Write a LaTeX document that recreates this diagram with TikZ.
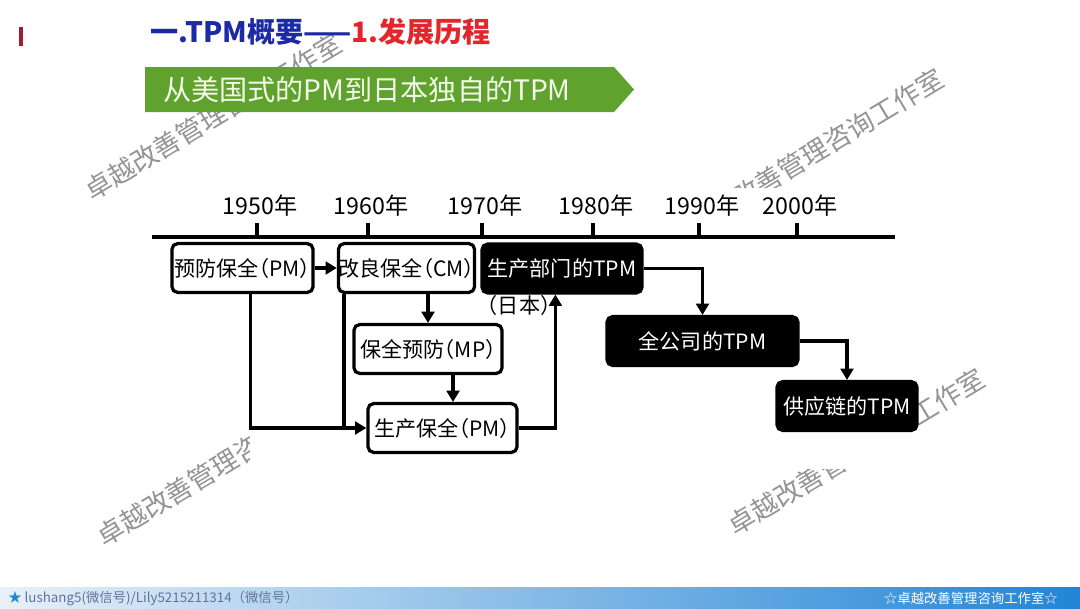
\documentclass[tikz,border=0pt]{standalone}
\usepackage{fontspec}
\setmainfont{Noto Sans CJK SC}
\newfontfamily\gth[CharacterWidth=AlternateHalf]{Noto Sans CJK SC}
\usepackage{xcolor}
\usepackage{tikz}
\usetikzlibrary{arrows.meta,positioning}
\definecolor{navy}{HTML}{1D2AA6}
\definecolor{alert}{HTML}{E2262B}
\definecolor{leaf}{HTML}{5FA22E}
\definecolor{leaftext}{HTML}{F4FBEA}
\definecolor{redbar}{HTML}{9E1F2C}
\definecolor{barl}{HTML}{E8F0F8}
\definecolor{barr}{HTML}{2285D6}
\definecolor{foot}{HTML}{62739A}

\begin{document}
\begin{tikzpicture}[x=0.025cm,y=-0.025cm,>=Stealth,
  wbox/.style={draw=black,line width=2.3pt,rounded corners=4pt,fill=white,minimum height=1.22cm,inner sep=0pt,font=\gth\fontsize{15}{15}\selectfont},
  bbox/.style={wbox,fill=black,text=white},
  arr/.style={-{Triangle[length=8pt,width=9pt]},line width=2.4pt},
  yearlab/.style={inner sep=0pt,font=\fontsize{16.5}{16.5}\selectfont},
  wmark/.style={text=black!42,rotate=31,inner sep=0pt,font=\fontsize{19}{19}\selectfont}]
\useasboundingbox (0,0) rectangle (1080,608);
\shade[left color=barl,right color=barr] (0,587) rectangle (1080,608);
\node[anchor=west,inner sep=0pt,text=foot,font=\fontsize{9.5}{9.5}\selectfont] (wx) at (8,598) {{\color{barr}★} lushang5(微信号)/Lily5215211314（微信号）};
\node[anchor=east,inner sep=0pt,text=white,font=\fontsize{9.5}{9.5}\selectfont] (ws) at (1058,598) {☆卓越改善管理咨询工作室☆};
\foreach \wx/\wy [count=\k] in {213/117,815/152,225/463,856/452} {\node[wmark] (wm\k) at (\wx,\wy) {卓越改善管理咨询工作室};}
\fill[white] (250,188) rectangle (915,469);
\fill[redbar] (19,27) rectangle (23,46);
\node[anchor=west,inner sep=0pt,font=\bfseries\fontsize{20}{20}\selectfont] (ttl) at (150,32) {\textcolor{navy}{一.TPM概要——}\textcolor{alert}{1.发展历程}};
\fill[leaf] (145,67) -- (614,67) -- (634,89.5) -- (614,112) -- (145,112) -- cycle;
\node[anchor=west,inner sep=0pt,text=leaftext,font=\fontsize{20}{20}\selectfont] (bn) at (163,90) {从美国式的PM到日本独自的TPM};
\draw[line width=3.4pt] (152,237) -- (895,237);
\foreach \yr/\xx in {1950/257,1960/368,1970/482,1980/593,1990/699,2000/797} {
  \draw[line width=2.3pt] (\xx,237) -- (\xx,223);
  \node[yearlab] (y\yr) at (\xx+3,206) {{\yr}年};
}
\node[wbox,minimum width=3.525cm] (pm1) at (242.5,268) {预防保全（PM）};
\node[wbox,minimum width=3.325cm] (cm) at (406.5,268) {改良保全（CM）};
\node[bbox,minimum width=4cm] (tpm1) at (562,268.5) {生产部门的TPM};
\node[inner sep=0pt,font=\gth\fontsize{15}{15}\selectfont] (jp) at (519,305) {（日本）};
\node[wbox,minimum width=3.7cm] (mp) at (428,349) {保全预防（MP）};
\node[wbox,minimum width=3.725cm] (pm2) at (442.5,428) {生产保全（PM）};
\node[bbox,minimum width=4.775cm] (tpm2) at (702.5,341) {全公司的TPM};
\node[bbox,minimum width=3.5cm] (tpm3) at (847,406) {供应链的TPM};
\draw[arr] (pm1.east) -- (cm.west);
\draw[arr] (cm.south -| mp.north) -- (mp.north);
\draw[arr] ([xshift=0.625cm]mp.south) -- ([xshift=0.625cm]mp.south |- pm2.north);
\draw[arr] ([xshift=0.2cm]pm1.south) |- (pm2.west);
\draw[line width=2.4pt] ([xshift=0.18cm]cm.south west) -- ([xshift=0.18cm]cm.south west |- pm2.west);
\draw[arr] (pm2.east) -| ([xshift=1.875cm]tpm1.south west);
\draw[arr] (tpm1.east) -| (tpm2.north);
\draw[arr] (tpm2.east) -| (tpm3.north);
\end{tikzpicture}
\end{document}
